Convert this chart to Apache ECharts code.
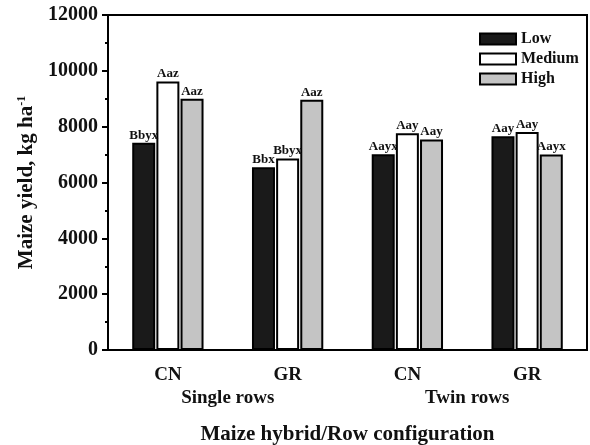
<!DOCTYPE html>
<html>
<head>
<meta charset="utf-8">
<script src="https://cdn.jsdelivr.net/npm/echarts@6/dist/echarts.min.js"></script>
<style>
  html, body { margin: 0; padding: 0; background: #fff; }
  #yieldChart { width: 590px; height: 445px; }
</style>
</head>
<body>
<div id="yieldChart"></div>
<script>
var yieldChart = echarts.init(document.getElementById("yieldChart"));

// hybrids within each row configuration
let hybrids = ["CN", "GR", "CN", "GR"];
let rowConfigs = ["Single rows", "Twin rows"];

// maize yield (kg/ha) per N level
let lowYield = [7420, 6550, 7010, 7660];
let mediumYield = [9620, 6860, 7760, 7810];
let highYield = [9000, 8960, 7540, 7000];

// letter groupings above bars
let lowLetters = ["Bbyx", "Bbx", "Aayx", "Aay"];
let mediumLetters = ["Aaz", "Bbyx", "Aay", "Aay"];
let highLetters = ["Aaz", "Aaz", "Aay", "Aayx"];

var serif = "Liberation Serif";

function makeSeries(name, values, letters, color) {
  return {
    name: name,
    type: "bar",
    xAxisIndex: 0,
    barWidth: 23,
    barGap: "5%",
    itemStyle: {
      color: color,
      borderColor: "#000",
      borderWidth: 2
    },
    label: {
      show: true,
      position: "top",
      distance: 1,
      fontFamily: serif,
      fontWeight: "bold",
      fontSize: 13,
      color: "#111",
      formatter: function (p) {
        return letters[p.dataIndex];
      }
    },
    data: values
  };
}

yieldChart.setOption({
  animation: false,
  textStyle: { fontFamily: serif },
  grid: {
    left: 108,
    right: 3,
    top: 15,
    bottom: 95,
    outerBoundsMode: "none",
    containLabel: false,
    show: true,
    borderColor: "#000",
    borderWidth: 2
  },
  legend: {
    orient: "vertical",
    left: 474,
    top: 26,
    icon: "rect",
    itemWidth: 36,
    itemHeight: 11,
    itemGap: 4,
    textStyle: {
      fontFamily: serif,
      fontWeight: "bold",
      fontSize: 16,
      color: "#111"
    },
    data: ["Low", "Medium", "High"]
  },
  xAxis: [
    {
      type: "category",
      data: hybrids,
      axisLine: { lineStyle: { color: "#000", width: 2 } },
      axisTick: { alignWithLabel: true, length: 5, lineStyle: { color: "#000", width: 2 } },
      axisLabel: {
        margin: 16,
        fontFamily: serif,
        fontWeight: "bold",
        fontSize: 19,
        color: "#111"
      },
      splitLine: { show: false }
    },
    {
      type: "category",
      position: "bottom",
      data: rowConfigs,
      axisLine: { show: false },
      axisTick: { show: false },
      axisLabel: {
        margin: 39,
        fontFamily: serif,
        fontWeight: "bold",
        fontSize: 19,
        color: "#111"
      },
      splitLine: { show: false },
      name: "Maize hybrid/Row configuration",
      nameLocation: "middle",
      nameGap: 74,
      nameTextStyle: {
        fontFamily: serif,
        fontWeight: "bold",
        fontSize: 21,
        color: "#111"
      }
    }
  ],
  yAxis: {
    type: "value",
    min: 0,
    max: 12000,
    interval: 2000,
    axisLine: { show: true, lineStyle: { color: "#000", width: 2 } },
    axisTick: { show: true, length: 6, lineStyle: { color: "#000", width: 2 } },
    minorTick: { show: true, splitNumber: 2, length: 3, lineStyle: { color: "#000", width: 2 } },
    splitLine: { show: false },
    axisLabel: {
      margin: 10,
      fontFamily: serif,
      fontWeight: "bold",
      fontSize: 20,
      color: "#111",
      formatter: function (v) {
        return String(v);
      }
    },
    name: "{a|Maize yield, kg ha}{s|-1}",
    nameLocation: "middle",
    nameGap: 70,
    nameTextStyle: {
      rich: {
        a: { fontFamily: serif, fontWeight: "bold", fontSize: 21, color: "#111" },
        s: { fontFamily: serif, fontWeight: "bold", fontSize: 12, color: "#111", verticalAlign: "top", padding: [0, 0, 10, 0] }
      }
    }
  },
  series: [
    makeSeries("Low", lowYield, lowLetters, "#1a1a1a"),
    makeSeries("Medium", mediumYield, mediumLetters, "#ffffff"),
    makeSeries("High", highYield, highLetters, "#c4c4c4")
  ]
});
</script>
</body>
</html>
